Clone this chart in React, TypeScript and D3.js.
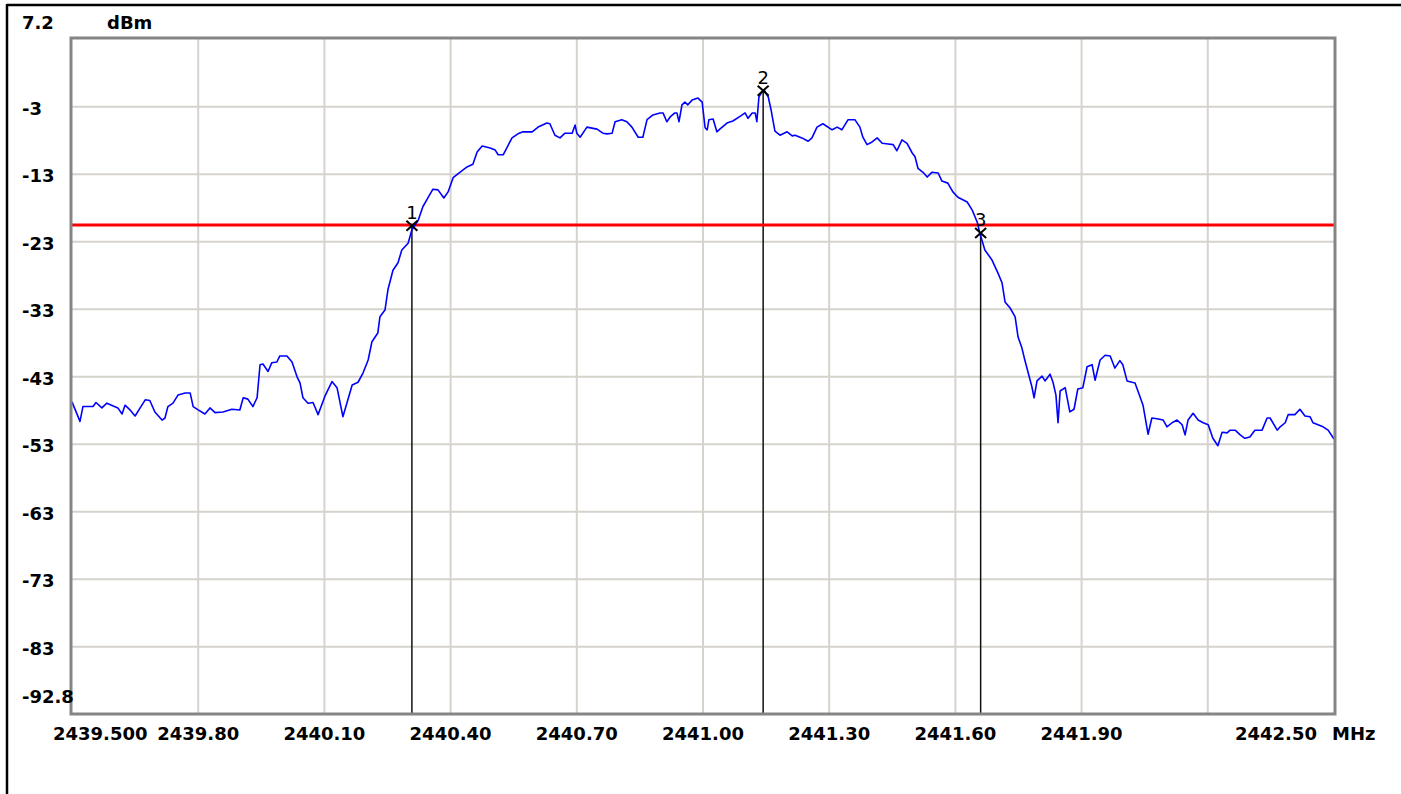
import { useEffect } from "react";
import * as d3 from "d3";

// trace: frequency (MHz) and level (dBm)
const freqMHz = [
  2439.5, 2439.519, 2439.526, 2439.55, 2439.557, 2439.571, 2439.583, 2439.609, 2439.619, 2439.626,
  2439.638, 2439.65, 2439.662, 2439.674, 2439.685, 2439.697, 2439.714, 2439.721, 2439.728, 2439.74,
  2439.752, 2439.769, 2439.781, 2439.788, 2439.8, 2439.816, 2439.828, 2439.84, 2439.859, 2439.88,
  2439.899, 2439.907, 2439.918, 2439.93, 2439.94, 2439.947, 2439.954, 2439.966, 2439.975, 2439.987,
  2439.994, 2440.011, 2440.023, 2440.035, 2440.042, 2440.049, 2440.061, 2440.073, 2440.085, 2440.101,
  2440.118, 2440.13, 2440.144, 2440.166, 2440.18, 2440.192, 2440.204, 2440.213, 2440.227, 2440.232,
  2440.244, 2440.251, 2440.263, 2440.275, 2440.284, 2440.299, 2440.308, 2440.323, 2440.334, 2440.346,
  2440.358, 2440.37, 2440.384, 2440.394, 2440.406, 2440.422, 2440.439, 2440.453, 2440.463, 2440.475,
  2440.494, 2440.506, 2440.513, 2440.525, 2440.546, 2440.56, 2440.572, 2440.594, 2440.608, 2440.629,
  2440.636, 2440.648, 2440.66, 2440.672, 2440.689, 2440.696, 2440.7, 2440.708, 2440.724, 2440.748,
  2440.762, 2440.772, 2440.784, 2440.791, 2440.807, 2440.819, 2440.831, 2440.846, 2440.857, 2440.867,
  2440.881, 2440.898, 2440.905, 2440.914, 2440.922, 2440.933, 2440.938, 2440.943, 2440.95, 2440.957,
  2440.964, 2440.974, 2440.988, 2440.998, 2441.005, 2441.01, 2441.014, 2441.024, 2441.033, 2441.04,
  2441.057, 2441.071, 2441.088, 2441.1, 2441.107, 2441.117, 2441.124, 2441.128, 2441.133, 2441.14,
  2441.145, 2441.155, 2441.162, 2441.166, 2441.171, 2441.183, 2441.2, 2441.212, 2441.219, 2441.235,
  2441.25, 2441.259, 2441.271, 2441.285, 2441.307, 2441.319, 2441.33, 2441.345, 2441.361, 2441.373,
  2441.38, 2441.39, 2441.402, 2441.414, 2441.426, 2441.44, 2441.452, 2441.461, 2441.473, 2441.485,
  2441.497, 2441.504, 2441.511, 2441.523, 2441.533, 2441.544, 2441.559, 2441.568, 2441.582, 2441.594,
  2441.606, 2441.628, 2441.64, 2441.652, 2441.658, 2441.67, 2441.687, 2441.701, 2441.711, 2441.718,
  2441.73, 2441.742, 2441.749, 2441.758, 2441.765, 2441.773, 2441.782, 2441.787, 2441.794, 2441.806,
  2441.813, 2441.825, 2441.832, 2441.839, 2441.844, 2441.849, 2441.861, 2441.872, 2441.882, 2441.891,
  2441.903, 2441.913, 2441.925, 2441.932, 2441.944, 2441.956, 2441.968, 2441.979, 2441.991, 2441.998,
  2442.008, 2442.02, 2442.027, 2442.039, 2442.046, 2442.058, 2442.067, 2442.079, 2442.094, 2442.103,
  2442.115, 2442.127, 2442.139, 2442.146, 2442.153, 2442.165, 2442.177, 2442.189, 2442.201, 2442.212,
  2442.224, 2442.234, 2442.246, 2442.253, 2442.265, 2442.277, 2442.288, 2442.3, 2442.312, 2442.329,
  2442.341, 2442.348, 2442.365, 2442.372, 2442.384, 2442.391, 2442.407, 2442.419, 2442.431, 2442.443,
  2442.45, 2442.462, 2442.474, 2442.486, 2442.5,
];
const levelDbm = [
  -46.7, -49.6, -47.4, -47.4, -46.8, -47.6, -46.9, -47.6, -48.5, -47.2,
  -47.9, -48.8, -47.6, -46.4, -46.5, -48.2, -49.4, -49.1, -47.4, -46.9,
  -45.7, -45.4, -45.4, -47.4, -47.9, -48.5, -47.6, -48.3, -48.2, -47.8,
  -47.9, -46.1, -46.3, -47.4, -46.1, -41.2, -41.1, -42.2, -40.9, -40.8,
  -39.9, -39.9, -40.8, -43.0, -43.9, -46.1, -46.9, -46.8, -48.6, -45.9,
  -43.7, -44.6, -48.9, -44.2, -43.8, -42.4, -40.5, -37.8, -36.5, -34.1,
  -33.1, -30.1, -27.2, -26.1, -24.2, -23.2, -21.2, -19.8, -17.8, -16.5,
  -15.2, -15.3, -16.5, -15.6, -13.5, -12.7, -11.9, -11.5, -9.7, -8.8,
  -9.1, -9.4, -10.1, -10.1, -7.6, -7.0, -6.7, -6.7, -6.0, -5.4,
  -5.5, -7.2, -7.6, -6.9, -6.9, -5.7, -6.9, -7.5, -6.0, -6.3,
  -6.9, -7.0, -6.9, -5.2, -4.9, -5.2, -6.0, -7.5, -7.5, -4.9,
  -4.2, -3.9, -3.9, -5.2, -4.5, -3.9, -3.9, -5.2, -2.7, -2.3,
  -2.7, -2.0, -1.7, -2.3, -6.1, -6.4, -4.9, -4.8, -6.7, -6.3,
  -5.4, -5.1, -4.4, -3.9, -4.7, -3.9, -3.9, -5.2, -1.5, -0.8,
  -0.5, -1.5, -3.5, -4.9, -6.6, -7.2, -6.7, -7.3, -7.2, -7.6,
  -8.1, -7.6, -6.0, -5.5, -6.4, -6.0, -6.4, -4.9, -4.9, -6.0,
  -7.5, -8.6, -8.2, -7.6, -8.4, -8.5, -8.6, -9.5, -7.9, -8.4,
  -9.8, -10.4, -12.1, -12.7, -13.4, -12.7, -12.8, -14.0, -14.3, -15.6,
  -16.4, -17.1, -18.3, -20.1, -21.7, -24.2, -25.7, -27.6, -29.1, -31.9,
  -32.8, -34.1, -37.1, -38.7, -40.5, -42.4, -44.5, -46.1, -43.6, -42.9,
  -43.6, -42.6, -43.8, -45.7, -49.8, -45.1, -44.6, -48.2, -47.8, -44.8,
  -44.6, -41.5, -41.2, -43.5, -40.5, -39.8, -39.9, -41.7, -40.6, -41.2,
  -43.6, -43.8, -43.9, -46.0, -47.2, -51.5, -49.1, -49.2, -49.4, -50.4,
  -49.8, -49.4, -50.1, -51.6, -49.4, -48.4, -49.4, -49.8, -50.1, -52.1,
  -53.2, -51.2, -51.3, -50.9, -50.9, -51.6, -52.1, -51.9, -50.9, -50.9,
  -49.1, -49.1, -50.9, -50.4, -49.8, -48.6, -48.6, -47.8, -48.8, -48.9,
  -49.8, -50.1, -50.4, -50.9, -52.2,
];

const markerIds = ["1", "2", "3"];
const markerFreqs = [2440.308, 2441.143, 2441.66];
const markerLevels = [-20.6, -0.6, -21.7];

const refLevel = -20.5;

const freqMin = 2439.5;
const freqMax = 2442.5;
const levelMax = 7.2;
const levelMin = -92.8;

const freqGrid = [2439.8, 2440.1, 2440.4, 2440.7, 2441.0, 2441.3, 2441.6, 2441.9, 2442.2];
const freqTicks = [2439.5, 2439.8, 2440.1, 2440.4, 2440.7, 2441.0, 2441.3, 2441.6, 2441.9, 2442.5];
const freqTickLabels = ["2439.500", "2439.80", "2440.10", "2440.40", "2440.70", "2441.00", "2441.30", "2441.60", "2441.90", "2442.50"];
const levelTicks = [7.2, -3, -13, -23, -33, -43, -53, -63, -73, -83, -92.8];
const levelTickLabels = ["7.2", "-3", "-13", "-23", "-33", "-43", "-53", "-63", "-73", "-83", "-92.8"];

const W = 1401;
const H = 794;
const left = 72;
const right = 1334;
const top = 38;
const bottom = 713;
const font = "'DejaVu Sans', sans-serif";

export default function App() {
  useEffect(() => {
    document.body.style.margin = "0";
  }, []);

  const x = d3.scaleLinear().domain([freqMin, freqMax]).range([left, right]);
  const y = d3.scaleLinear().domain([levelMin, levelMax]).range([bottom, top]);

  const trace = d3
    .line<number>()
    .x((_, i) => x(freqMHz[i]))
    .y((d) => y(d))(levelDbm);

  const gridY = levelTicks.slice(1, -1);

  return (
    <svg width={W} height={H} style={{ display: "block", background: "#fff" }}>
      {/* window frame */}
      <line x1={7} y1={5} x2={W} y2={5} stroke="#000" strokeWidth={2.5} />
      <line x1={7} y1={4} x2={7} y2={H} stroke="#000" strokeWidth={2.5} />

      {/* grid */}
      {freqGrid.map((f) => (
        <line key={"gx" + f} x1={x(f)} x2={x(f)} y1={top} y2={bottom} stroke="#d6d3cc" strokeWidth={2} />
      ))}
      {gridY.map((v) => (
        <line key={"gy" + v} x1={left} x2={right} y1={y(v)} y2={y(v)} stroke="#d6d3cc" strokeWidth={2} />
      ))}

      {/* marker verticals */}
      {markerFreqs.map((f, i) => (
        <line key={"mv" + i} x1={x(f)} x2={x(f)} y1={y(markerLevels[i])} y2={bottom} stroke="#111" strokeWidth={1.5} />
      ))}

      {/* reference line */}
      <line x1={left} x2={right} y1={y(refLevel)} y2={y(refLevel)} stroke="#ff0000" strokeWidth={3} />

      {/* trace */}
      <path d={trace ?? ""} fill="none" stroke="#0000ff" strokeWidth={1.6} strokeLinejoin="round" />

      {/* markers */}
      {markerFreqs.map((f, i) => {
        const cx = x(f);
        const cy = y(markerLevels[i]);
        return (
          <g key={"m" + i}>
            <line x1={cx - 5.5} y1={cy - 5} x2={cx + 5.5} y2={cy + 5} stroke="#000" strokeWidth={2} />
            <line x1={cx + 5.5} y1={cy - 5} x2={cx - 5.5} y2={cy + 5} stroke="#000" strokeWidth={2} />
            <text x={cx} y={cy - 7} textAnchor="middle" fontFamily={font} fontSize={18} fill="#000">
              {markerIds[i]}
            </text>
          </g>
        );
      })}

      {/* plot border */}
      <rect x={left - 1} y={top} width={right - left + 2} height={bottom - top + 1} fill="none" stroke="#858585" strokeWidth={3} />

      {/* level labels */}
      {levelTicks.map((v, i) => {
        let ty = y(v) + 8;
        if (i === 0) ty = top - 9;
        if (i === levelTicks.length - 1) ty = bottom - 10;
        return (
          <text key={"yl" + i} x={22} y={ty} fontFamily={font} fontWeight="bold" fontSize={18} fill="#000">
            {levelTickLabels[i]}
          </text>
        );
      })}
      <text x={107} y={top - 9} fontFamily={font} fontWeight="bold" fontSize={18} fill="#000">
        dBm
      </text>

      {/* frequency labels */}
      {freqTicks.map((f, i) => {
        let anchor: "start" | "middle" | "end" = "middle";
        let tx = x(f);
        if (i === 0) {
          anchor = "start";
          tx = x(f) - 19;
        }
        if (i === freqTicks.length - 1) {
          anchor = "end";
          tx = x(f) - 17;
        }
        return (
          <text key={"xl" + i} x={tx} y={740} textAnchor={anchor} fontFamily={font} fontWeight="bold" fontSize={18} fill="#000">
            {freqTickLabels[i]}
          </text>
        );
      })}
      <text x={x(freqMax) - 2} y={740} fontFamily={font} fontWeight="bold" fontSize={18} fill="#000">
        MHz
      </text>
    </svg>
  );
}
